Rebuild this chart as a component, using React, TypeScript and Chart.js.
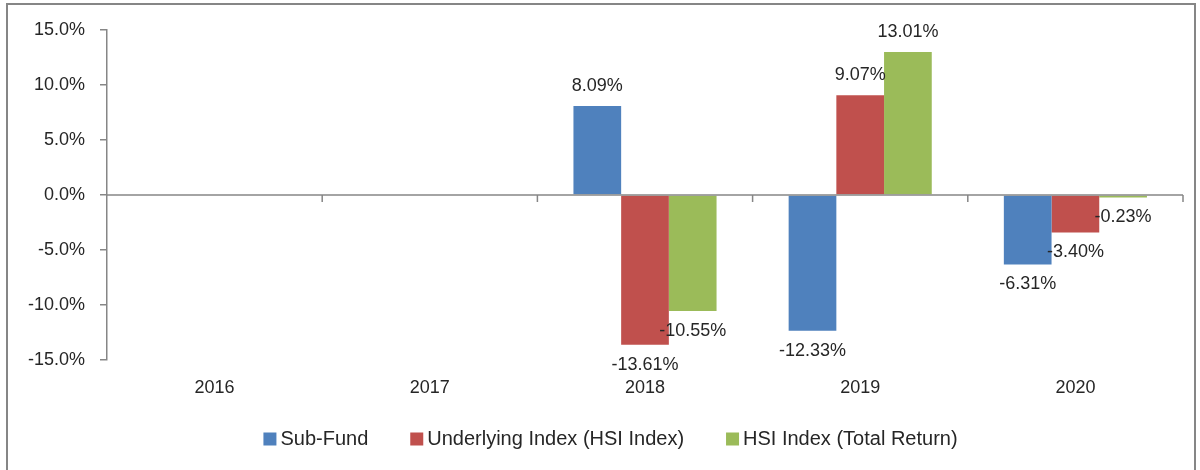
import React, { useEffect, useRef } from "react";
import { Chart, registerables } from "chart.js";

Chart.register(...registerables);

const categories = ["2016", "2017", "2018", "2019", "2020"];
const subFund = [null, null, 8.09, -12.33, -6.31];
const underlyingIndex = [null, null, -13.61, 9.07, -3.4];
const hsiTotalReturn = [null, null, -10.55, 13.01, -0.23];
const seriesNames = ["Sub-Fund", "Underlying Index (HSI Index)", "HSI Index (Total Return)"];
const seriesColors = ["#4F81BD", "#C0504D", "#9BBB59"];
const yMin = -15;
const yMax = 15;
const yStep = 5;

const AXIS = "#868686";
const TEXT = "#262626";
const FONT = "'Liberation Sans', Arial, sans-serif";

const excelPlugin = {
  id: "excelDecor",
  afterDatasetsDraw(chart: any) {
    const { ctx, chartArea, scales } = chart;
    const x = scales.x;
    const y = scales.y;
    const y0 = y.getPixelForValue(0);
    ctx.save();
    ctx.strokeStyle = AXIS;
    ctx.lineWidth = 1.5;
    ctx.beginPath();
    ctx.moveTo(chartArea.left, y0);
    ctx.lineTo(chartArea.right, y0);
    const n = categories.length;
    for (let i = 1; i <= n; i++) {
      const px = i < n ? (x.getPixelForValue(i - 1) + x.getPixelForValue(i)) / 2 : chartArea.right;
      ctx.moveTo(px, y0);
      ctx.lineTo(px, y0 + 7);
    }
    ctx.stroke();

    ctx.fillStyle = TEXT;
    ctx.font = `18px ${FONT}`;
    ctx.textAlign = "center";
    ctx.textBaseline = "middle";
    chart.data.datasets.forEach((ds: any, di: number) => {
      const meta = chart.getDatasetMeta(di);
      meta.data.forEach((bar: any, i: number) => {
        const v = ds.data[i];
        if (v === null || v === undefined) return;
        const ty = v >= 0 ? bar.y - 20 : bar.y + 20;
        ctx.fillText(v.toFixed(2) + "%", bar.x, ty);
      });
    });

    // legend (Excel style: square marker, tight gap)
    const box = 13;
    const gapText = 4;
    const gapItem = 42;
    ctx.font = `20px ${FONT}`;
    ctx.textAlign = "left";
    const items = chart.data.datasets.map((ds: any) => ({
      label: ds.label,
      color: ds.backgroundColor,
      w: ctx.measureText(ds.label).width,
    }));
    const total =
      items.reduce((s: number, it: any) => s + box + gapText + it.w, 0) + gapItem * (items.length - 1);
    const centerX = 610.5;
    const cy = 439;
    let cx = centerX - total / 2;
    items.forEach((it: any) => {
      ctx.fillStyle = it.color;
      ctx.fillRect(cx, cy - box / 2, box, box);
      ctx.fillStyle = TEXT;
      ctx.fillText(it.label, cx + box + gapText, cy);
      cx += box + gapText + it.w + gapItem;
    });
    ctx.restore();
  },
};

function BarChart() {
  const ref = useRef<HTMLCanvasElement>(null);
  useEffect(() => {
    if (!ref.current) return;
    const data = [subFund, underlyingIndex, hsiTotalReturn];
    const chart = new Chart(ref.current, {
      type: "bar",
      data: {
        labels: categories,
        datasets: data.map((d, i) => ({
          label: seriesNames[i],
          data: d as any,
          backgroundColor: seriesColors[i],
          borderWidth: 0,
          categoryPercentage: 0.665,
          barPercentage: 1,
        })),
      },
      options: {
        responsive: false,
        animation: false,
        events: [],
        layout: { padding: { left: 0, right: 17, top: 30, bottom: 71 } },
        plugins: {
          tooltip: { enabled: false },
          legend: { display: false },
        },
        scales: {
          x: {
            grid: { display: false, drawTicks: false },
            border: { display: false },
            ticks: { color: TEXT, font: { family: FONT, size: 18 }, padding: 17 },
            afterFit(scale: any) {
              scale.height = 39;
            },
          },
          y: {
            min: yMin,
            max: yMax,
            ticks: {
              stepSize: yStep,
              color: TEXT,
              padding: 15,
              font: { family: FONT, size: 18 },
              callback: (v: any) => Number(v).toFixed(1) + "%",
            },
            grid: {
              display: true,
              drawOnChartArea: false,
              drawTicks: true,
              tickLength: 7,
              color: AXIS,
              lineWidth: 1.5,
            },
            border: { display: true, color: AXIS, width: 1.5 },
            afterFit(scale: any) {
              scale.width = 107;
            },
          },
        },
      },
      plugins: [excelPlugin],
    } as any);
    return () => chart.destroy();
  }, []);
  return <canvas ref={ref} width={1200} height={470} style={{ display: "block" }} />;
}

export default function App() {
  return (
    <div
      style={{
        position: "absolute",
        left: 0,
        top: 0,
        width: 1200,
        height: 470,
        overflow: "hidden",
        background: "#fff",
      }}
    >
      <BarChart />
      <div
        style={{
          position: "absolute",
          left: 6,
          top: 3,
          width: 1186,
          height: 480,
          border: `2px solid ${AXIS}`,
          pointerEvents: "none",
        }}
      />
    </div>
  );
}
